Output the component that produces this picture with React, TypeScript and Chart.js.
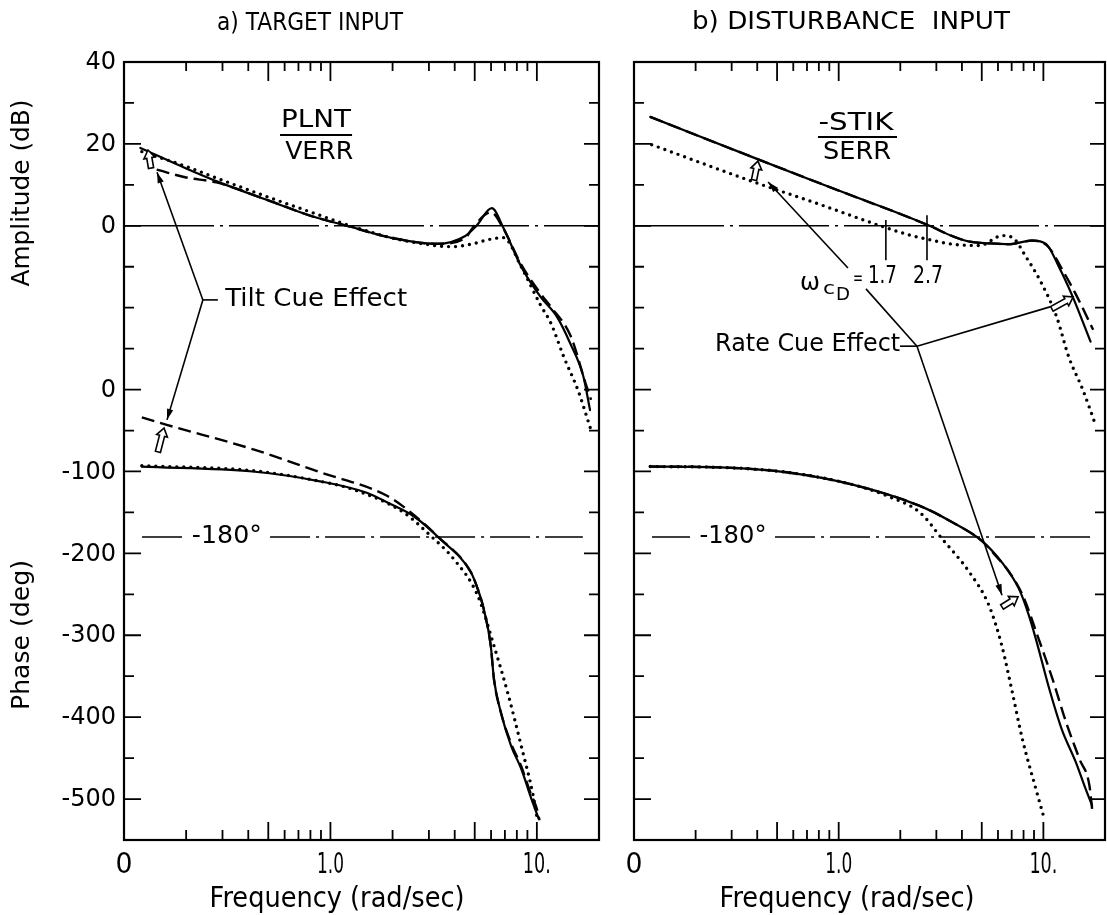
import React, { useEffect, useRef } from "react";
import { Chart, registerables } from "chart.js";

Chart.register(...registerables);

const FONT = '"DejaVu Sans", "Liberation Sans", sans-serif';

// ---------- axes ----------
const FREQ_MIN = 0.1;
const FREQ_MAX = 20;
const Y_MIN = -150; // bottom of the frame (= -550 deg)
const Y_MAX = 40; // dB
const PHASE_ZERO = -40; // position of 0 deg on the shared axis
const DEG_PER_UNIT = 5;

const X_TICKS = [0.2, 0.3, 0.4, 0.5, 0.6, 0.7, 0.8, 0.9, 1, 2, 3, 4, 5, 6, 7, 8, 9, 10];
const X_LONG_TICKS = [0.5, 1, 5, 10];
const X_LABEL_VALUES = [0.1, 1, 10];
const X_LABELS = ["0", "1.0", "10."];
const Y_MAJOR = [20, 0, -40, -60, -80, -100, -120, -140];
const Y_MINOR = [30, 10, -10, -20, -30, -50, -70, -90, -110, -130];
const Y_LABEL_VALUES = [40, 20, 0, -40, -60, -80, -100, -120, -140];

// ---------- panel a) TARGET INPUT ----------
const aAmpSolidFreq = [0.12, 0.2, 0.29, 0.5, 0.83, 1.2, 2.0, 3.3, 4.5, 5.1, 6.05, 6.9, 8.4, 10.4, 12.5, 14.5, 16.8, 18.1];
const aAmpSolid = [19.0, 14.0, 10.6, 6.2, 2.2, 0.0, -3.0, -4.4, -2.5, 0.0, 4.3, -0.6, -10.0, -17.3, -22.2, -28.7, -36.8, -45.0];
const aAmpDashedFreq = [0.144, 0.2, 0.28, 0.5, 0.83, 1.2, 2.0, 3.3, 4.5, 4.9, 6.0, 6.9, 8.4, 10.4, 11.7, 14.6, 17.2, 18.3];
const aAmpDashed = [13.7, 11.8, 10.6, 6.2, 2.2, 0.0, -3.0, -4.4, -3.0, -0.4, 3.3, -0.8, -9.5, -16.5, -19.8, -27.0, -38.4, -42.5];
const aAmpDottedFreq = [0.122, 0.2, 0.29, 0.5, 0.83, 1.25, 2.0, 3.3, 3.9, 5.0, 5.8, 6.9, 8.4, 10.4, 11.7, 13.5, 15.8, 18.3];
const aAmpDotted = [18.1, 14.5, 11.4, 7.0, 3.1, 0.0, -3.0, -4.9, -5.1, -4.3, -3.4, -2.9, -10.0, -19.3, -23.8, -32.0, -40.1, -49.9];

const aPhSolidFreq = [0.122, 0.42, 0.89, 1.5, 1.89, 2.54, 3.42, 4.79, 5.18, 5.53, 5.98, 6.2, 6.69, 7.5, 8.4, 9.3, 10.2];
const aPhSolid = [-94, -100, -112, -126, -138, -155, -183, -223, -244, -268, -313, -354, -394, -435, -463, -496, -524];
const aPhDashedFreq = [0.122, 0.161, 0.423, 0.894, 1.89, 2.45, 3.3, 4.79, 5.18, 5.53, 5.98, 6.2, 6.69, 7.5, 8.4, 9.3, 10.0, 10.3];
const aPhDashed = [-34, -43, -73, -101, -130, -150, -179, -223, -244, -268, -313, -354, -394, -432, -460, -492, -512, -526];
const aPhDottedFreq = [0.122, 0.42, 0.89, 1.29, 2.26, 3.07, 3.96, 5.18, 6.2, 7.22, 8.4, 9.6, 10.1];
const aPhDotted = [-93, -99, -112, -122, -150, -179, -207, -252, -313, -370, -435, -496, -528];

// ---------- panel b) DISTURBANCE INPUT ----------
const bAmpSolidFreq = [0.12, 0.41, 1.0, 2.78, 3.5, 4.3, 5.5, 6.8, 8.8, 10.3, 11.9, 13.9, 17.0];
const bAmpSolid = [26.6, 16.1, 8.6, 0.0, -2.3, -3.8, -4.3, -4.5, -3.6, -4.4, -10.0, -17.3, -28.3];
const bAmpDashedFreq = [0.12, 0.41, 1.0, 2.78, 3.5, 4.3, 5.5, 6.8, 8.8, 10.5, 12.4, 14.6, 17.5];
const bAmpDashed = [26.6, 16.1, 8.6, 0.0, -2.3, -3.8, -4.3, -4.5, -3.6, -5.0, -10.8, -17.3, -25.4];
const bAmpDottedFreq = [0.122, 0.38, 0.8, 1.64, 2.2, 2.78, 3.6, 4.9, 6.3, 7.2, 8.2, 9.6, 11.6, 13.3, 15.6, 18.1];
const bAmpDotted = [19.8, 10.8, 5.3, -0.2, -2.2, -3.4, -4.5, -4.8, -2.4, -3.2, -7.5, -13.2, -22.2, -32.0, -40.1, -49.0];

const bPhSolidFreq = [0.12, 0.263, 0.558, 1.17, 2.49, 3.59, 5.02, 6.27, 7.62, 8.5, 9.2, 10.7, 12.3, 14.4, 16.1, 17.3];
const bPhSolid = [-94, -95, -101, -116, -142, -162, -185, -211, -244, -276, -305, -366, -415, -455, -488, -508];
const bPhDashedFreq = [0.12, 0.263, 0.558, 1.17, 2.49, 3.59, 5.02, 5.66, 6.82, 7.95, 9.5, 11.1, 12.9, 15.0, 16.8, 17.3];
const bPhDashed = [-94, -95, -101, -116, -142, -162, -185, -199, -223, -252, -305, -354, -406, -451, -484, -512];
const bPhDottedFreq = [0.12, 0.263, 0.558, 1.17, 1.73, 2.49, 3.22, 4.35, 5.43, 6.27, 7.0, 7.9, 9.2, 10.1];
const bPhDotted = [-94, -95, -101, -116, -130, -150, -183, -223, -264, -313, -366, -427, -488, -524];

// ---------- reference lines ----------
const ZERO_DB = 0;
const MINUS_180 = -180;
const aRef180Freq = [0.1223, 0.1975, 0.3, 0.51, 16.7];
const bRef180Freq = [0.1224, 0.1877, 0.3, 0.4886, 17.3];
const OMEGA_CD = [1.7, 2.7];
const OMEGA_MARK_TOP = [1.4, 2.6];
const OMEGA_MARK_BOTTOM = -8.4;

// ---------- helpers ----------
const phaseUnit = (d: number) => PHASE_ZERO + d / DEG_PER_UNIT;
const toPts = (f: number[], v: number[]) => f.map((x, i) => ({ x, y: v[i] }));
const toPhasePts = (f: number[], d: number[]) => f.map((x, i) => ({ x, y: phaseUnit(d[i]) }));
const yLabel = (v: number) => (v > PHASE_ZERO ? String(v) : String((v - PHASE_ZERO) * DEG_PER_UNIT));

const STYLES: Record<string, any> = {
  solid: { borderWidth: 2.2, borderDash: [], borderCapStyle: "round" },
  dashed: { borderWidth: 2.4, borderDash: [13, 6], borderCapStyle: "butt" },
  dotted: { borderWidth: 3.4, borderDash: [0, 7], borderCapStyle: "round" },
};

function curve(data: any[], kind: string) {
  return {
    data,
    borderColor: "#000",
    ...STYLES[kind],
    borderJoinStyle: "round",
    pointRadius: 0,
    fill: false,
    cubicInterpolationMode: "monotone",
  };
}

function refLine(data: any[], dash: number[], width: number) {
  return {
    data,
    borderColor: "#000",
    borderWidth: width,
    borderDash: dash,
    pointRadius: 0,
    fill: false,
    tension: 0,
    spanGaps: false,
  };
}

function ref180(freqs: number[]) {
  const y = phaseUnit(MINUS_180);
  return freqs.map((x, i) => ({ x, y: i === 2 ? null : y }));
}

function txt(ctx: CanvasRenderingContext2D, s: string, x: number, y: number, size: number, opts: any = {}) {
  ctx.save();
  ctx.font = `${size}px ${FONT}`;
  ctx.fillStyle = "#000";
  ctx.textAlign = opts.align || "center";
  ctx.textBaseline = "middle";
  const nat = ctx.measureText(s).width;
  const sx = opts.w ? opts.w / nat : 1;
  ctx.translate(x, y);
  if (opts.rot) ctx.rotate(-Math.PI / 2);
  ctx.scale(sx, 1);
  ctx.fillText(s, 0, 0);
  ctx.restore();
}

type Pt = { x: number; y: number };

function seg(ctx: CanvasRenderingContext2D, a: Pt, b: Pt, w = 1.6) {
  ctx.save();
  ctx.strokeStyle = "#000";
  ctx.lineWidth = w;
  ctx.beginPath();
  ctx.moveTo(a.x, a.y);
  ctx.lineTo(b.x, b.y);
  ctx.stroke();
  ctx.restore();
}

function head(ctx: CanvasRenderingContext2D, from: Pt, tip: Pt, len = 11, half = 3.2) {
  const dx = tip.x - from.x, dy = tip.y - from.y;
  const L = Math.hypot(dx, dy);
  const ux = dx / L, uy = dy / L;
  ctx.save();
  ctx.fillStyle = "#000";
  ctx.beginPath();
  ctx.moveTo(tip.x, tip.y);
  ctx.lineTo(tip.x - ux * len - uy * half, tip.y - uy * len + ux * half);
  ctx.lineTo(tip.x - ux * len + uy * half, tip.y - uy * len - ux * half);
  ctx.closePath();
  ctx.fill();
  ctx.restore();
}

function hollow(ctx: CanvasRenderingContext2D, tail: Pt, tip: Pt) {
  const dx = tip.x - tail.x, dy = tip.y - tail.y;
  const L = Math.hypot(dx, dy);
  const ux = dx / L, uy = dy / L;
  const nx = -uy, ny = ux;
  const h = 8, hw = 5.5, sw = 2.6;
  const bx = tip.x - ux * h, by = tip.y - uy * h;
  ctx.save();
  ctx.beginPath();
  ctx.moveTo(tip.x, tip.y);
  ctx.lineTo(bx + nx * hw, by + ny * hw);
  ctx.lineTo(bx + nx * sw, by + ny * sw);
  ctx.lineTo(tail.x + nx * sw, tail.y + ny * sw);
  ctx.lineTo(tail.x - nx * sw, tail.y - ny * sw);
  ctx.lineTo(bx - nx * sw, by - ny * sw);
  ctx.lineTo(bx - nx * hw, by - ny * hw);
  ctx.closePath();
  ctx.fillStyle = "#fff";
  ctx.fill();
  ctx.strokeStyle = "#000";
  ctx.lineWidth = 1.6;
  ctx.stroke();
  ctx.restore();
}

function drawFrame(chart: any, withLabels: boolean) {
  const ctx: CanvasRenderingContext2D = chart.ctx;
  const { left, right, top, bottom } = chart.chartArea;
  const xs = chart.scales.x, ys = chart.scales.y;
  ctx.save();
  ctx.strokeStyle = "#000";
  ctx.lineWidth = 2.2;
  ctx.strokeRect(left, top, right - left, bottom - top);
  ctx.lineWidth = 1.8;
  ctx.beginPath();
  for (const f of X_TICKS) {
    const x = xs.getPixelForValue(f);
    const long = X_LONG_TICKS.includes(f);
    ctx.moveTo(x, bottom);
    ctx.lineTo(x, bottom - (long ? 18 : 10));
    ctx.moveTo(x, top);
    ctx.lineTo(x, top + (long ? 19 : 9));
  }
  for (const v of Y_MAJOR) {
    const y = ys.getPixelForValue(v);
    ctx.moveTo(left, y);
    ctx.lineTo(left + 17, y);
    ctx.moveTo(right, y);
    ctx.lineTo(right - 15, y);
  }
  for (const v of Y_MINOR) {
    const y = ys.getPixelForValue(v);
    ctx.moveTo(left, y);
    ctx.lineTo(left + 10, y);
    ctx.moveTo(right, y);
    ctx.lineTo(right - 10, y);
  }
  ctx.stroke();
  ctx.restore();

  // x tick labels
  const xw = [17, 27, 28];
  X_LABEL_VALUES.forEach((f, i) => {
    txt(ctx, X_LABELS[i], xs.getPixelForValue(f), bottom + 26, 28, { w: xw[i] });
  });
  txt(ctx, "Frequency (rad/sec)", left + 213, bottom + 60, 28, { w: 255 });

  if (withLabels) {
    for (const v of Y_LABEL_VALUES) {
      txt(ctx, yLabel(v), left - 8, ys.getPixelForValue(v) + 1, 24, { align: "right" });
    }
  }
}

function makePlugin(drawExtra: (chart: any) => void, withLabels: boolean) {
  return {
    id: "bodeDecor",
    afterDraw(chart: any) {
      drawFrame(chart, withLabels);
      drawExtra(chart);
    },
  };
}

function drawA(chart: any) {
  const ctx: CanvasRenderingContext2D = chart.ctx;
  const xs = chart.scales.x, ys = chart.scales.y;
  const P = (f: number, v: number) => ({ x: xs.getPixelForValue(f), y: ys.getPixelForValue(v) });
  const { left } = chart.chartArea;

  txt(ctx, "a) TARGET INPUT", 310, 23, 25, { w: 186 });
  txt(ctx, "Amplitude (dB)", left - 102, 193, 25, { w: 187, rot: true });
  txt(ctx, "Phase (deg)", left - 102, 635, 25, { w: 150, rot: true });

  // PLNT / VERR
  let p = P(0.851, 25.8);
  txt(ctx, "PLNT", p.x, p.y, 25, { w: 70 });
  seg(ctx, P(0.57, 22.2), P(1.273, 22.2), 2);
  p = P(0.882, 17.8);
  txt(ctx, "VERR", p.x, p.y, 25, { w: 68 });

  // -180 deg label
  p = P(0.315, phaseUnit(MINUS_180));
  txt(ctx, "-180°", p.x, p.y, 25, { w: 70 });

  // Tilt cue effect
  p = P(0.309, -18.1);
  txt(ctx, "Tilt Cue Effect", p.x, p.y, 25, { w: 182, align: "left" });
  const j = P(0.241, -18.1);
  seg(ctx, j, P(0.285, -18.1));
  const up = P(0.1445, 13.1);
  seg(ctx, j, up);
  head(ctx, j, up);
  const dn = P(0.1615, -47.4);
  seg(ctx, j, dn);
  head(ctx, j, dn);
  hollow(ctx, P(0.1352, 14.1), P(0.1307, 18.5));
  hollow(ctx, P(0.146, -55.2), P(0.1563, -49.4));
}

function drawB(chart: any) {
  const ctx: CanvasRenderingContext2D = chart.ctx;
  const xs = chart.scales.x, ys = chart.scales.y;
  const P = (f: number, v: number) => ({ x: xs.getPixelForValue(f), y: ys.getPixelForValue(v) });

  txt(ctx, "b) DISTURBANCE  INPUT", 236, 22, 25, { w: 318 });

  // -STIK / SERR
  let p = P(1.215, 24.9);
  txt(ctx, "-STIK", p.x, p.y, 25, { w: 75 });
  seg(ctx, P(0.792, 21.7), P(1.927, 21.7), 2);
  p = P(1.23, 17.8);
  txt(ctx, "SERR", p.x, p.y, 25, { w: 68 });

  // omega_cD label
  p = P(0.647, -14.0);
  txt(ctx, "ω", p.x, p.y, 25, { align: "left", w: 20 });
  p = P(0.838, -15.4);
  txt(ctx, "c", p.x, p.y, 18, { align: "left", w: 12 });
  p = P(0.97, -17.1);
  txt(ctx, "D", p.x, p.y, 17, { align: "left", w: 14 });
  p = P(1.175, -13.0);
  txt(ctx, "=", p.x, p.y, 20, { align: "left", w: 10 });
  p = P(1.39, -12.5);
  txt(ctx, "1.7", p.x, p.y, 25, { align: "left", w: 29 });
  p = P(2.307, -12.5);
  txt(ctx, "2.7", p.x, p.y, 25, { align: "left", w: 30 });

  // -180 deg label
  p = P(0.3045, phaseUnit(MINUS_180));
  txt(ctx, "-180°", p.x, p.y, 25, { w: 67 });

  // Rate cue effect
  p = P(0.249, -29.1);
  txt(ctx, "Rate Cue Effect", p.x, p.y, 25, { w: 185, align: "left" });
  const j = P(2.413, -29.4);
  seg(ctx, P(1.993, -29.4), j);
  seg(ctx, j, P(10.77, -19.8));
  hollow(ctx, P(11.0, -20.3), P(13.96, -17.4));
  seg(ctx, j, P(1.359, -15.4));
  const a2s = P(1.11, -10.3), a2t = P(0.452, 10.7);
  seg(ctx, a2s, a2t);
  head(ctx, a2s, a2t);
  hollow(ctx, P(0.386, 11.2), P(0.403, 15.8));
  const a3 = P(6.28, -90.2);
  seg(ctx, j, a3);
  head(ctx, j, a3);
  hollow(ctx, P(6.28, -93.1), P(7.52, -90.6));
}

function buildChart(canvas: HTMLCanvasElement, datasets: any[], padding: any, drawExtra: (c: any) => void, withLabels: boolean) {
  return new Chart(canvas, {
    type: "line",
    data: { datasets },
    options: {
      responsive: false,
      animation: false,
      devicePixelRatio: 1,
      events: [],
      layout: { padding },
      plugins: { legend: { display: false }, tooltip: { enabled: false }, title: { display: false } },
      scales: {
        x: { type: "logarithmic", min: FREQ_MIN, max: FREQ_MAX, display: false },
        y: { type: "linear", min: Y_MIN, max: Y_MAX, display: false },
      },
    } as any,
    plugins: [makePlugin(drawExtra, withLabels)],
  } as any);
}

export default function App() {
  const refA = useRef<HTMLCanvasElement>(null);
  const refB = useRef<HTMLCanvasElement>(null);

  useEffect(() => {
    const zeroLine = (a: number, b: number) => refLine([{ x: a, y: ZERO_DB }, { x: b, y: ZERO_DB }], [90, 6, 3, 6], 1.5);
    const dsA = [
      zeroLine(FREQ_MIN, FREQ_MAX),
      refLine(ref180(aRef180Freq), [40, 6, 3, 6], 1.4),
      curve(toPts(aAmpSolidFreq, aAmpSolid), "solid"),
      curve(toPts(aAmpDashedFreq, aAmpDashed), "dashed"),
      curve(toPts(aAmpDottedFreq, aAmpDotted), "dotted"),
      curve(toPhasePts(aPhSolidFreq, aPhSolid), "solid"),
      curve(toPhasePts(aPhDashedFreq, aPhDashed), "dashed"),
      curve(toPhasePts(aPhDottedFreq, aPhDotted), "dotted"),
    ];
    const dsB = [
      zeroLine(FREQ_MIN, FREQ_MAX),
      refLine(ref180(bRef180Freq), [40, 6, 3, 6], 1.4),
      ...OMEGA_CD.map((f, i) => refLine([{ x: f, y: OMEGA_MARK_TOP[i] }, { x: f, y: OMEGA_MARK_BOTTOM }], [], 1.6)),
      curve(toPts(bAmpSolidFreq, bAmpSolid), "solid"),
      curve(toPts(bAmpDashedFreq, bAmpDashed), "dashed"),
      curve(toPts(bAmpDottedFreq, bAmpDotted), "dotted"),
      curve(toPhasePts(bPhSolidFreq, bPhSolid), "solid"),
      curve(toPhasePts(bPhDashedFreq, bPhDashed), "dashed"),
      curve(toPhasePts(bPhDottedFreq, bPhDotted), "dotted"),
    ];
    const ca = buildChart(refA.current!, dsA, { left: 124, top: 62, right: 16, bottom: 75 }, drawA, true);
    const cb = buildChart(refB.current!, dsB, { left: 19, top: 62, right: 2, bottom: 75 }, drawB, false);
    return () => {
      ca.destroy();
      cb.destroy();
    };
  }, []);

  return (
    <div style={{ position: "fixed", left: 0, top: 0, width: 1107, height: 915, background: "#fff" }}>
      <canvas ref={refA} width={615} height={915} style={{ position: "absolute", left: 0, top: 0, width: 615, height: 915 }} />
      <canvas ref={refB} width={492} height={915} style={{ position: "absolute", left: 615, top: 0, width: 492, height: 915 }} />
    </div>
  );
}
